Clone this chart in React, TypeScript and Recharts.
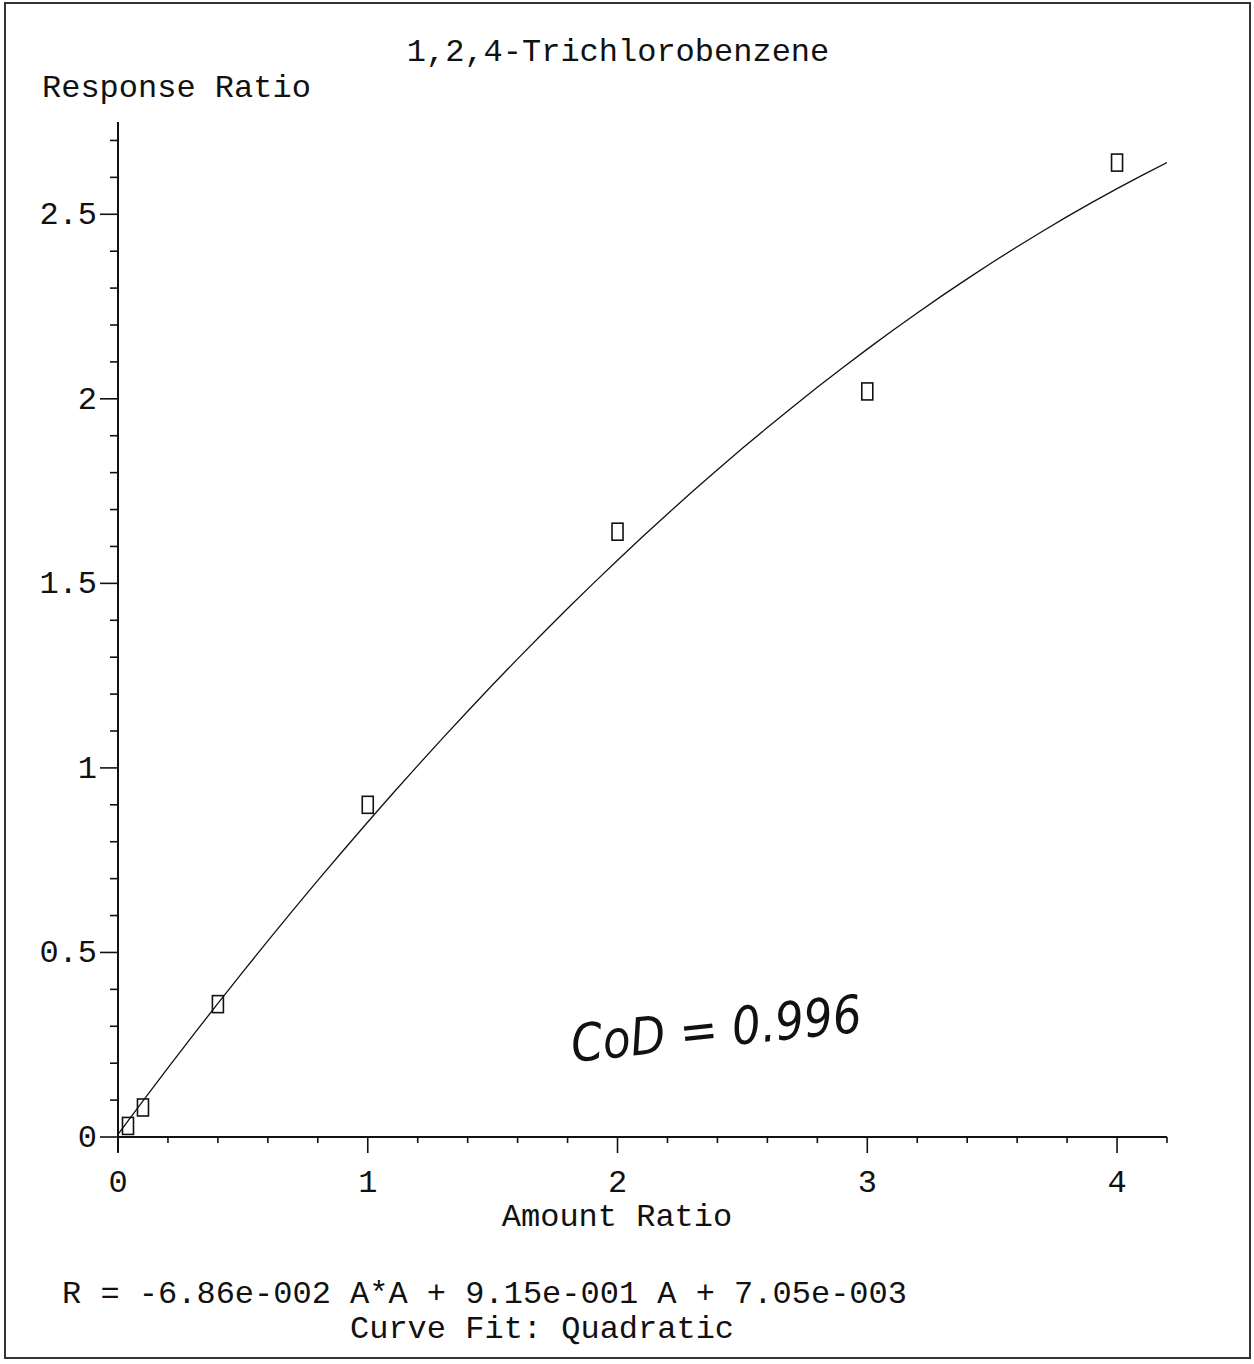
import React from "react";
import {
  ComposedChart,
  Line,
  Scatter,
  XAxis,
  YAxis,
  ReferenceLine,
} from "recharts";

// Calibration standards: amount ratio vs. response ratio
const amountRatio = [0.04, 0.1, 0.4, 1, 2, 3, 4];
const responseRatio = [0.03, 0.08, 0.36, 0.9, 1.64, 2.02, 2.64];

// Quadratic fit coefficients: R = a*A*A + b*A + c
const fitA = -0.0686;
const fitB = 0.915;
const fitC = 0.00705;

// Axis ticks (major ones carry labels)
const xTicks = [0, 0.2, 0.4, 0.6, 0.8, 1, 1.2, 1.4, 1.6, 1.8, 2, 2.2, 2.4, 2.6, 2.8, 3, 3.2, 3.4, 3.6, 3.8, 4, 4.2];
const xLabels = [0, 1, 2, 3, 4];
const yTicks = [0, 0.1, 0.2, 0.3, 0.4, 0.5, 0.6, 0.7, 0.8, 0.9, 1, 1.1, 1.2, 1.3, 1.4, 1.5, 1.6, 1.7, 1.8, 1.9, 2, 2.1, 2.2, 2.3, 2.4, 2.5, 2.6, 2.7];
const yLabels = [0, 0.5, 1, 1.5, 2, 2.5];

const points = amountRatio.map((x, i) => ({ x, y: responseRatio[i] }));

// Fitted curve sampled along the x range
const curve = Array.from({ length: 43 }, (_, i) => {
  const x = i / 10;
  return { x, y: fitA * x * x + fitB * x + fitC };
});

const FONT = '"Liberation Mono", "Courier New", monospace';
const FS = 32;
const INK = "#111";

const isLabel = (v: number, list: number[]) =>
  list.some((l) => Math.abs(l - v) < 1e-6);

function XTick(props: any) {
  const { x, y, payload } = props;
  const v = payload.value as number;
  const major = isLabel(v, xLabels);
  return (
    <g>
      <line x1={x} x2={x} y1={y} y2={y + (major ? 16 : 6)} stroke={INK} strokeWidth={1.6} />
      {major && (
        <text x={x} y={y + 55} textAnchor="middle" fontFamily={FONT} fontSize={FS} fill={INK}>
          {String(v)}
        </text>
      )}
    </g>
  );
}

function YTick(props: any) {
  const { x, y, payload } = props;
  const v = payload.value as number;
  const major = isLabel(v, yLabels);
  return (
    <g>
      <line x1={x} x2={x - (major ? 18 : 8)} y1={y} y2={y} stroke={INK} strokeWidth={1.6} />
      {major && (
        <text x={x - 21} y={y + 10} textAnchor="end" fontFamily={FONT} fontSize={FS} fill={INK}>
          {String(v)}
        </text>
      )}
    </g>
  );
}

function Box(props: any) {
  const { cx, cy } = props;
  return (
    <rect x={cx - 5.5} y={cy - 8.5} width={11} height={17} fill="none" stroke={INK} strokeWidth={1.6} />
  );
}

export default function App() {
  return (
    <div
      style={{
        position: "absolute",
        left: 0,
        top: 0,
        width: 1254,
        height: 1364,
        background: "#fff",
      }}
    >
      <ComposedChart
        width={1254}
        height={1364}
        margin={{ top: 122, right: 87, bottom: 197, left: 58 }}
      >
        <XAxis
          dataKey="x"
          type="number"
          domain={[0, 4.2]}
          ticks={xTicks}
          interval={0}
          allowDataOverflow
          tickLine={false}
          tickSize={0}
          tickMargin={0}
          tick={<XTick />}
          axisLine={{ stroke: INK, strokeWidth: 2 }}
          height={30}
        />
        <YAxis
          dataKey="y"
          type="number"
          domain={[0, 2.75]}
          ticks={yTicks}
          interval={0}
          allowDataOverflow
          tickLine={false}
          tickSize={0}
          tickMargin={0}
          tick={<YTick />}
          axisLine={{ stroke: INK, strokeWidth: 2 }}
          width={60}
        />
        <ReferenceLine
          segment={[{ x: 0, y: 0 }, { x: 0, y: -0.042 }]}
          stroke={INK}
          strokeWidth={2}
          ifOverflow="visible"
        />
        <Line
          data={curve}
          dataKey="y"
          type="linear"
          stroke={INK}
          strokeWidth={1.3}
          dot={false}
          activeDot={false}
          isAnimationActive={false}
        />
        <Scatter data={points} dataKey="y" shape={<Box />} isAnimationActive={false} />
      </ComposedChart>

      <svg
        width={1254}
        height={1364}
        style={{ position: "absolute", left: 0, top: 0, pointerEvents: "none" }}
      >
        <rect x={5} y={3} width={1245} height={1355} fill="none" stroke="#333" strokeWidth={2} />
        <text x={618} y={61} textAnchor="middle" fontFamily={FONT} fontSize={FS} fill={INK}>
          1,2,4-Trichlorobenzene
        </text>
        <text x={42} y={97} fontFamily={FONT} fontSize={FS} fill={INK}>
          Response Ratio
        </text>
        <text x={617} y={1226} textAnchor="middle" fontFamily={FONT} fontSize={FS} fill={INK}>
          Amount Ratio
        </text>
        <text x={62} y={1303} fontFamily={FONT} fontSize={FS} fill={INK}>
          R = -6.86e-002 A*A + 9.15e-001 A + 7.05e-003
        </text>
        <text x={350} y={1338} fontFamily={FONT} fontSize={FS} fill={INK}>
          Curve Fit: Quadratic
        </text>
        <text
          x={573}
          y={1062}
          fontFamily='"DejaVu Sans", sans-serif'
          fontStyle="italic"
          fontWeight={300}
          fontSize={52}
          textLength={292}
          lengthAdjust="spacingAndGlyphs"
          fill={INK}
          transform="rotate(-6 573 1062)"
        >
          CoD = 0.996
        </text>
      </svg>
    </div>
  );
}
